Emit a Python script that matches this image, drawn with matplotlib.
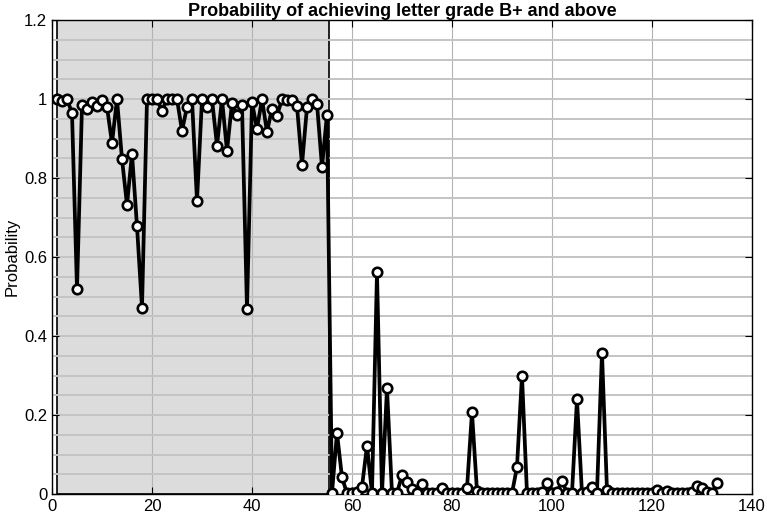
import matplotlib
matplotlib.use("Agg")
import matplotlib.pyplot as plt
import numpy as np

#Probability per student
prob_high = [1.0, 0.996, 1.0, 0.965, 0.518, 0.985, 0.974, 0.993, 0.982, 0.999,
             0.98, 0.889, 1.0, 0.848, 0.732, 0.862, 0.678, 0.472, 1.0, 1.0,
             1.0, 0.971, 1.0, 1.0, 1.0, 0.920, 0.980, 1.0, 0.742, 1.0,
             0.979, 1.0, 0.882, 1.0, 0.869, 0.990, 0.961, 0.985, 0.468, 0.992,
             0.925, 1.0, 0.917, 0.976, 0.958, 1.0, 0.998, 0.997, 0.982, 0.834,
             0.979, 1.0, 0.989, 0.828, 0.961]
prob_low = [0.002, 0.155, 0.042, 0.002, 0.002, 0.004, 0.018, 0.122, 0.003, 0.562,
            0.002, 0.268, 0.002, 0.002, 0.048, 0.030, 0.012, 0.003, 0.026, 0.002,
            0.002, 0.002, 0.015, 0.002, 0.002, 0.002, 0.002, 0.014, 0.207, 0.008,
            0.002, 0.002, 0.002, 0.002, 0.002, 0.002, 0.002, 0.068, 0.300, 0.002,
            0.002, 0.003, 0.004, 0.028, 0.002, 0.004, 0.034, 0.002, 0.002, 0.240,
            0.002, 0.006, 0.017, 0.003, 0.358, 0.010, 0.002, 0.002, 0.002, 0.002,
            0.002, 0.002, 0.002, 0.002, 0.002, 0.010, 0.003, 0.008, 0.002, 0.002,
            0.002, 0.002, 0.004, 0.020, 0.015, 0.004, 0.002, 0.028]
prob = prob_high + prob_low
students = np.arange(1, len(prob) + 1)

shade_start = 1
shade_end = 55.5

xticks = [0, 20, 40, 60, 80, 100, 120, 140]
yticks = [0, 0.2, 0.4, 0.6, 0.8, 1.0, 1.2]
yticklabels = ["0", "0.2", "0.4", "0.6", "0.8", "1", "1.2"]

plt.rcParams["font.family"] = ["Liberation Sans", "DejaVu Sans"]

fig = plt.figure(figsize=(7.67, 5.18), dpi=100)
ax = fig.add_axes([0.0678, 0.0463, 0.9126, 0.9147])

#shaded block of high-probability students
ax.axvspan(shade_start, shade_end, ymin=0, ymax=1, facecolor="#dcdcdc",
           edgecolor="black", linewidth=1.2, zorder=0.2)

#grid: vertical at major x ticks, horizontal every 0.05
ax.set_axisbelow(True)
for xv in xticks[1:-1]:
    ax.axvline(xv, color="#b4b4b4", linewidth=0.8, zorder=0.5)
for yv in np.arange(0.05, 1.2, 0.05):
    ax.axhline(yv, color="#c4c4c4", linewidth=1.4, zorder=0.5)

ax.plot(students, prob, color="black", linewidth=2.7, marker="o",
        markersize=6.8, markerfacecolor="white", markeredgecolor="black",
        markeredgewidth=1.9, zorder=3)

ax.set_xlim(0, 140)
ax.set_ylim(0, 1.2)
ax.set_xticks(xticks)
ax.set_yticks(yticks)
ax.set_yticklabels(yticklabels)
ax.tick_params(direction="in", top=True, right=True, labelsize=12, length=5)
for s in ax.spines.values():
    s.set_linewidth(1.0)

ax.set_title("Probability of achieving letter grade B+ and above",
             fontsize=13, fontweight="bold", pad=3)
ax.set_ylabel("Probability", fontsize=12, labelpad=3)

fig.savefig("out.png", dpi=100)
